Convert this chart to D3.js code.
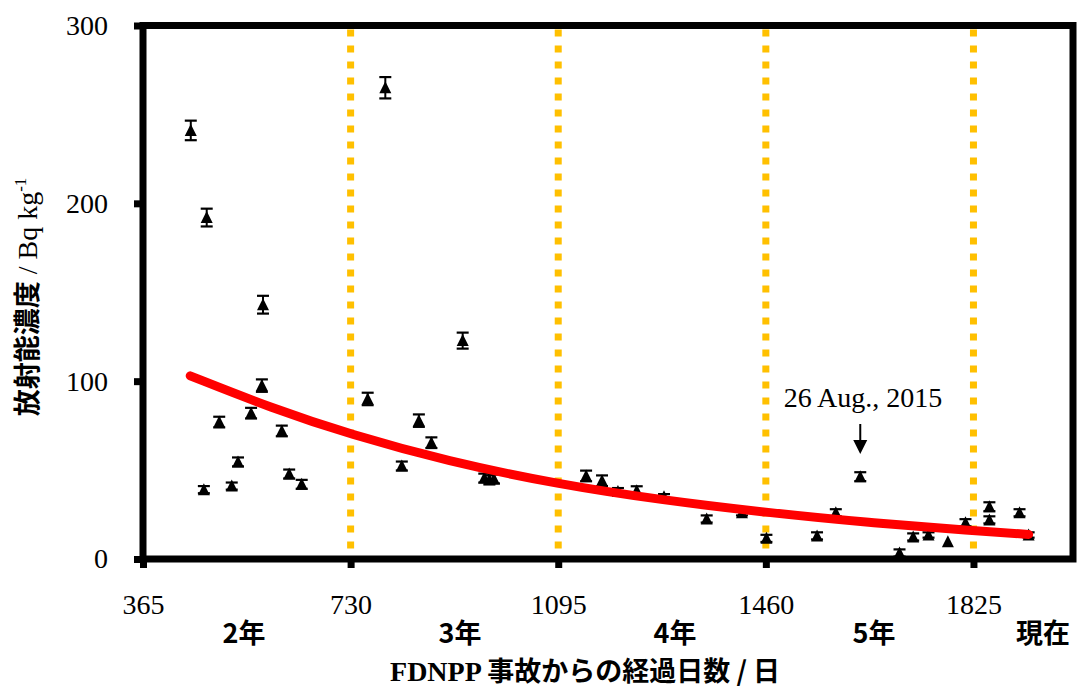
<!DOCTYPE html>
<html>
<head>
<meta charset="utf-8">
<script src="https://cdn.jsdelivr.net/npm/d3@7"></script>
<style>
  body { margin: 0; background: #fff; }
  svg { display: block; }
</style>
</head>
<body>
<div id="chart"></div>
<script>
// days since accident, concentration (Bq/kg), error
var days = [449, 472, 477, 499, 521, 532, 555, 574, 576, 609, 622, 644,
  760, 791, 820, 850, 872, 927, 965, 974, 982,
  1144, 1172, 1200, 1233, 1281, 1356, 1418, 1461, 1550, 1583, 1626,
  1695, 1719, 1746, 1780, 1811, 1853, 1853, 1906, 1922];
var conc = [241, 39, 192, 77, 41, 54.6, 82, 97.5, 143, 72, 47.8, 42,
  90, 265, 52.3, 77.8, 65.4, 122.8, 45.5, 44.5, 45,
  46.7, 44, 37.9, 38.4, 35, 22.5, 26, 11.6, 13, 26, 46.3,
  3.4, 12.4, 13.5, 9.7, 20.4, 29.4, 22, 26, 13.5];
var errs = [5.5, 2, 5, 3, 2, 2.5, 3, 3.5, 5, 3, 2.5, 2.5,
  3.5, 6, 2.5, 3.5, 3, 4.5, 2.5, 2.5, 2.5,
  3, 3, 2, 2.5, 1.5, 2, 1.5, 2, 2, 2, 2.5,
  2, 2, 1.5, 0, 2, 2.5, 2, 2, 1.5];

// fitted decay curve
var fitDays = [448, 590, 730, 900, 1095, 1280, 1460, 1640, 1825, 1922];
var fitConc = [103, 85, 70, 55, 42, 33, 26.2, 20.4, 16, 13.8];

var xTicks = [365, 730, 1095, 1460, 1825];
var yTicks = [0, 100, 200, 300];
var yearLabels = ["2年", "3年", "4年", "5年", "現在"];
var yearPos = [244, 460, 675, 874, 1043];

var W = 1078, H = 693;
var pLeft = 143, pRight = 1073, pTop = 25.5, pBottom = 559;

var svg = d3.select("#chart").append("svg")
  .attr("width", W).attr("height", H);

var x = d3.scaleLinear().domain([365, 2000]).range([pLeft, pRight]);
var y = d3.scaleLinear().domain([0, 300]).range([pBottom, pTop]);

var serif = "'Liberation Serif', 'Times New Roman', serif";
var cjk = "'Noto Sans CJK JP', 'Noto Sans', sans-serif";

// yellow dotted year lines
svg.selectAll(".year-line")
  .data(xTicks.slice(1))
  .enter()
  .append("line")
  .attr("class", "year-line")
  .attr("x1", function (d) { return x(d); })
  .attr("x2", function (d) { return x(d); })
  .attr("y1", pTop + 4)
  .attr("y2", pBottom - 3)
  .attr("stroke", "#FFC000")
  .attr("stroke-width", 7)
  .attr("stroke-dasharray", "7,9");

// error bars
var pts = days.map(function (d, i) {
  return { d: d, v: conc[i], e: errs[i] };
});

var eb = svg.append("g").attr("class", "errbars")
  .selectAll("g")
  .data(pts.filter(function (p) { return p.e > 0; }))
  .enter()
  .append("g");

eb.append("line")
  .attr("x1", function (p) { return x(p.d); })
  .attr("x2", function (p) { return x(p.d); })
  .attr("y1", function (p) { return y(p.v + p.e); })
  .attr("y2", function (p) { return y(p.v - p.e); })
  .attr("stroke", "#000").attr("stroke-width", 2);

[1, -1].forEach(function (s) {
  eb.append("line")
    .attr("x1", function (p) { return x(p.d) - 6; })
    .attr("x2", function (p) { return x(p.d) + 6; })
    .attr("y1", function (p) { return y(p.v + s * p.e); })
    .attr("y2", function (p) { return y(p.v + s * p.e); })
    .attr("stroke", "#000").attr("stroke-width", 2.2);
});

// triangle markers
svg.append("g").attr("class", "markers")
  .selectAll("path")
  .data(pts)
  .enter()
  .append("path")
  .attr("d", "M0,-6.5L6,5.5L-6,5.5Z")
  .attr("transform", function (p) {
    return "translate(" + x(p.d) + "," + y(p.v) + ")";
  })
  .attr("fill", "#000");

// fitted curve
var fit = fitDays.map(function (d, i) { return [d, fitConc[i]]; });
svg.append("path")
  .datum(fit)
  .attr("fill", "none")
  .attr("stroke", "#FF0000")
  .attr("stroke-width", 9)
  .attr("stroke-linecap", "round")
  .attr("d", d3.line()
    .x(function (d) { return x(d[0]); })
    .y(function (d) { return y(d[1]); })
    .curve(d3.curveBasis));

// frame
svg.append("rect")
  .attr("x", pLeft).attr("y", pTop)
  .attr("width", pRight - pLeft).attr("height", pBottom - pTop)
  .attr("fill", "none")
  .attr("stroke", "#000")
  .attr("stroke-width", 7);

// axes
var xAxis = svg.append("g")
  .attr("transform", "translate(0," + pBottom + ")")
  .call(d3.axisBottom(x).tickValues(xTicks).tickSize(9).tickPadding(26)
    .tickFormat(d3.format("d")));
var yAxis = svg.append("g")
  .attr("transform", "translate(" + pLeft + ",0)")
  .call(d3.axisLeft(y).tickValues(yTicks).tickSize(9).tickPadding(26));

[xAxis, yAxis].forEach(function (g) {
  g.select(".domain").remove();
  g.selectAll(".tick line").attr("stroke", "#000").attr("stroke-width", 7);
  g.selectAll(".tick text")
    .attr("fill", "#000")
    .style("font-family", serif)
    .style("font-size", "28px");
});

// year labels
svg.selectAll(".year-label")
  .data(yearLabels)
  .enter()
  .append("text")
  .attr("class", "year-label")
  .attr("x", function (d, i) { return yearPos[i]; })
  .attr("y", 643)
  .attr("text-anchor", "middle")
  .style("font-family", cjk)
  .style("font-weight", "bold")
  .style("font-size", "27px")
  .text(function (d) { return d; });

// x axis title
var xt = svg.append("text")
  .attr("x", 585).attr("y", 681)
  .attr("text-anchor", "middle")
  .style("font-size", "27px")
  .style("font-weight", "bold");
xt.append("tspan").style("font-family", serif).style("font-size", "28px").text("FDNPP ");
xt.append("tspan").style("font-family", cjk).text("事故からの経過日数 / 日");

// y axis title
var yt = svg.append("text")
  .attr("transform", "translate(37,297) rotate(-90)")
  .attr("text-anchor", "middle")
  .style("font-size", "27px");
yt.append("tspan").style("font-family", cjk).style("font-weight", "bold").text("放射能濃度");
yt.append("tspan").style("font-family", serif).style("font-size", "28px").text(" / Bq kg");
yt.append("tspan").style("font-family", serif).style("font-size", "17px")
  .attr("dy", -11).text("-1");

// annotation
svg.append("text")
  .attr("x", 863).attr("y", 407)
  .attr("text-anchor", "middle")
  .style("font-family", serif)
  .style("font-size", "28px")
  .text("26 Aug., 2015");

svg.append("line")
  .attr("x1", x(1626)).attr("x2", x(1626))
  .attr("y1", 424).attr("y2", 442)
  .attr("stroke", "#000").attr("stroke-width", 2);
svg.append("path")
  .attr("d", "M" + (x(1626) - 7) + ",440L" + (x(1626) + 7) + ",440L" + x(1626) + ",454Z")
  .attr("fill", "#000");
</script>
</body>
</html>
